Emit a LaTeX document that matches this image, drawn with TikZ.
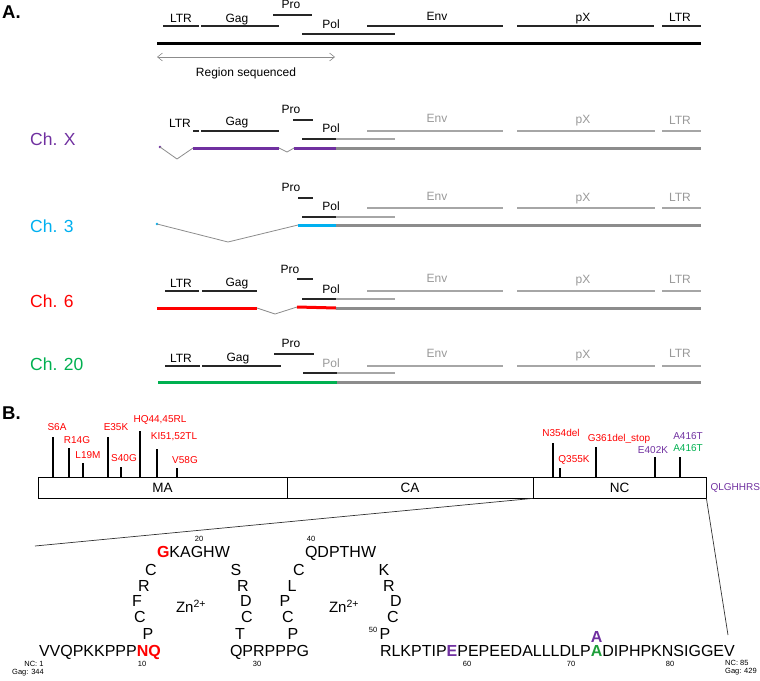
\documentclass[tikz,border=0pt]{standalone}
\usepackage{fontspec}
\setmainfont{Liberation Sans}
\usetikzlibrary{arrows.meta,positioning}
\definecolor{chpurple}{HTML}{7030A0}
\definecolor{chcyan}{HTML}{00B0F0}
\definecolor{chred}{HTML}{FF0000}
\definecolor{chgreen}{HTML}{00B050}
\definecolor{seqgreen}{HTML}{1E9E3A}
\definecolor{trackgray}{HTML}{8C8C8C}
\definecolor{genegray}{HTML}{A6A6A6}
\definecolor{labelgray}{HTML}{999999}

\begin{document}
\begin{tikzpicture}[
    x=1pt, y=-1pt,
    gene/.style={line width=1.3pt, draw=black!85},
    ggene/.style={line width=1.3pt, draw=genegray},
    track/.style={line width=3pt},
    splice/.style={line width=0.8pt, draw=trackgray},
    glbl/.style={font=\fontsize{12}{14}\selectfont, anchor=base, inner sep=0pt},
    gglbl/.style={glbl, text=labelgray},
    chlbl/.style={font=\fontsize{17.5}{20}\selectfont, anchor=base west, inner sep=0pt},
    panel/.style={font=\bfseries\fontsize{18.5}{22}\selectfont, anchor=base west, inner sep=0pt},
    regarrow/.style={{Straight Barb[length=5pt,width=8pt]}-{Straight Barb[length=5pt,width=8pt]}, line width=0.6pt, draw=trackgray},
    dom/.style={draw, line width=0.8pt, minimum height=21pt, inner sep=0pt, font=\fontsize{13.5}{15}\selectfont},
    bar/.style={line width=2.8pt},
    mut/.style={font=\fontsize{10}{12}\selectfont, text=chred, inner sep=0pt},
    aa/.style={font=\fontsize{16}{18}\selectfont, anchor=base, inner sep=0pt},
    seq/.style={font=\fontsize{16}{18}\selectfont, anchor=base west, inner sep=0pt, outer sep=0pt},
    zn/.style={font=\fontsize{15}{17}\selectfont, inner sep=0pt},
    num/.style={font=\fontsize{7.5}{9}\selectfont, inner sep=0pt},
    zoomline/.style={line width=0.7pt, draw=black!80}
]
\useasboundingbox (0,0) rectangle (760,680);

% ---------------- panel A ----------------
\node[panel] (pa) at (2,18) {A.};

% full provirus
\draw[gene] (163,26) -- (199,26);
\draw[gene] (201,26) -- (279,26);
\draw[gene] (273,15) -- (312,15);
\draw[gene] (302,34) -- (395,34);
\draw[gene] (367,26) -- (503,26);
\draw[gene] (517,26) -- (654,26);
\draw[gene] (662,26) -- (701,26);
\draw[track] (157,43) -- (701,43);
\node[glbl] (refltr) at (181,22) {LTR};
\node[glbl] (refgag) at (237,22) {Gag};
\node[glbl] (refpro) at (291,9) {Pro};
\node[glbl] (refpol) at (331,28) {Pol};
\node[glbl] (refenv) at (437,20) {Env};
\node[glbl] (refpx) at (583,21) {pX};
\node[glbl] (refltrb) at (680,21) {LTR};

\coordinate (rsL) at (157,57);
\coordinate (rsR) at (335,57);
\draw[regarrow] (rsL) -- (rsR);
\node[glbl] (region) at (246,76) {Region sequenced};

% Ch. X
\node[chlbl, text=chpurple] (chx) at (30,145) {Ch. X};
\begin{scope}[yshift=-105pt]
  \draw[gene] (193,26) -- (199,26);
  \draw[gene] (201,26) -- (279,26);
  \draw[gene] (293,15) -- (313,15);
  \draw[gene] (302,34) -- (336,34);
  \draw[ggene] (336,34) -- (395,34);
  \draw[ggene] (367,26) -- (503,26);
  \draw[ggene] (517,26) -- (655,26);
  \draw[ggene] (662,26) -- (701,26);
  \fill[chpurple] (160,42) circle (1.3pt);
  \draw[splice] (160,42) -- (177,54) -- (193,43);
  \draw[track, chpurple] (193,43) -- (279,43);
  \draw[splice] (279,43) -- (287,47) -- (294,43);
  \draw[track, chpurple] (294,43) -- (336,43);
  \draw[track, trackgray] (336,43) -- (701,43);
  \node[glbl] (chxltr) at (180,22) {LTR};
  \node[glbl] (chxgag) at (237,20) {Gag};
  \node[glbl] (chxpro) at (291,8) {Pro};
  \node[glbl] (chxpol) at (331,27) {Pol};
  \node[gglbl] (chxenv) at (437,17) {Env};
  \node[gglbl] (chxpx) at (583,18) {pX};
  \node[gglbl] (chxltrb) at (680,19) {LTR};
\end{scope}

% Ch. 3
\node[chlbl, text=chcyan] (ch3) at (30,232) {Ch. 3};
\begin{scope}[yshift=-182pt]
  \draw[gene] (298,16) -- (313,16);
  \draw[gene] (302,35) -- (336,35);
  \draw[ggene] (336,35) -- (395,35);
  \draw[ggene] (367,26) -- (503,26);
  \draw[ggene] (517,26) -- (655,26);
  \draw[ggene] (662,26) -- (701,26);
  \fill[chcyan] (157,42) circle (1.3pt);
  \draw[splice] (157,42) -- (228,60) -- (298,43);
  \draw[track, chcyan] (298,43) -- (336,43);
  \draw[track, trackgray] (336,43) -- (701,43);
  \node[glbl] (ch3pro) at (291,9) {Pro};
  \node[glbl] (ch3pol) at (331,28) {Pol};
  \node[gglbl] (ch3env) at (437,18) {Env};
  \node[gglbl] (ch3px) at (583,19) {pX};
  \node[gglbl] (ch3ltrb) at (680,19) {LTR};
\end{scope}

% Ch. 6
\node[chlbl, text=chred] (ch6) at (30,307) {Ch. 6};
\begin{scope}[yshift=-265pt]
  \draw[gene] (165,26) -- (199,26);
  \draw[gene] (202,26) -- (257,26);
  \draw[gene] (297,14) -- (313,14);
  \draw[gene] (302,34) -- (336,34);
  \draw[ggene] (336,34) -- (395,34);
  \draw[ggene] (367,26) -- (503,26);
  \draw[ggene] (517,26) -- (655,26);
  \draw[ggene] (662,26) -- (701,26);
  \draw[track, chred] (157,43) -- (257,43);
  \draw[splice] (257,43) -- (275,49) -- (297,42);
  \draw[track, chred] (297,42) -- (336,43);
  \draw[track, trackgray] (336,43) -- (701,43);
  \node[glbl] (ch6ltr) at (181,22) {LTR};
  \node[glbl] (ch6gag) at (237,21) {Gag};
  \node[glbl] (ch6pro) at (290,8) {Pro};
  \node[glbl] (ch6pol) at (331,28) {Pol};
  \node[gglbl] (ch6env) at (437,17) {Env};
  \node[gglbl] (ch6px) at (583,18) {pX};
  \node[gglbl] (ch6ltrb) at (680,18) {LTR};
\end{scope}

% Ch. 20
\node[chlbl, text=chgreen] (ch20) at (30,370) {Ch. 20};
\begin{scope}[yshift=-340pt]
  \draw[gene] (165,26) -- (200,26);
  \draw[gene] (202,26) -- (281,26);
  \draw[gene] (274,14) -- (314,14);
  \draw[gene] (303,33) -- (337,33);
  \draw[ggene] (337,33) -- (395,33);
  \draw[ggene] (367,26) -- (503,26);
  \draw[ggene] (517,26) -- (655,26);
  \draw[ggene] (662,26) -- (701,26);
  \draw[track, chgreen] (158,42) -- (337,42);
  \draw[track, trackgray] (337,42) -- (701,42);
  \node[glbl] (ch20ltr) at (181,22) {LTR};
  \node[glbl] (ch20gag) at (238,21) {Gag};
  \node[glbl] (ch20pro) at (291,7) {Pro};
  \node[gglbl] (ch20pol) at (331,27) {Pol};
  \node[gglbl] (ch20env) at (437,17) {Env};
  \node[gglbl] (ch20px) at (583,18) {pX};
  \node[gglbl] (ch20ltrb) at (680,17) {LTR};
\end{scope}

% ---------------- panel B ----------------
\node[panel] (pb) at (2,419) {B.};

\node[dom, minimum width=249pt] (ma) at (162.5,487.5) {MA};
\node[dom, minimum width=246pt] (ca) at (410,487.5) {CA};
\node[dom, minimum width=173pt] (nc) at (619.5,487.5) {NC};
\node[mut, text=chpurple, anchor=west, right=4pt of nc] (tail) {QLGHHRS};

% mutation bars
\foreach \x/\t in {53/437, 69/448, 83/463, 108/437, 121/467, 140/431, 157/449, 177/468,
                   553/443, 560/468, 596/447, 655/457, 680/457}
  \draw[bar] (\x,477) -- (\x,\t);

\node[mut] (m1) at (57,427) {S6A};
\node[mut] (m2) at (77,440) {R14G};
\node[mut] (m3) at (88,455) {L19M};
\node[mut] (m4) at (116,427) {E35K};
\node[mut] (m5) at (124,458) {S40G};
\node[mut] (m6) at (160,420) {HQ44,45RL};
\node[mut] (m7) at (174,437) {KI51,52TL};
\node[mut] (m8) at (185,460) {V58G};
\node[mut] (m9) at (561,433) {N354del};
\node[mut] (m10) at (574,460) {Q355K};
\node[mut] (m11) at (619,439) {G361del\_stop};
\node[mut, text=chpurple] (m12) at (653,450) {E402K};
\node[mut, text=chpurple] (m13) at (688,436) {A416T};
\node[mut, text=chgreen] (m14) at (688,448) {A416T};

% zoom into NC
\coordinate (zl) at (35,546);
\coordinate (zr) at (728,635);
\draw[zoomline] (nc.south west) -- (zl);
\draw[zoomline] (nc.south east) -- (zr);

% NC sequence
\node[seq] (s1) at (39,656) {VVQPKKPPP\textbf{\textcolor{chred}{NQ}}};
\node[seq] (s2) at (157,557) {\textbf{\textcolor{chred}{G}}KAGHW};
\node[seq] (s3) at (230,656) {QPRPPPG};
\node[seq] (s4) at (305,557) {QDPTHW};
\node[seq] (s5) at (380,656) {RLKPTIP};
\node[seq, font=\bfseries\fontsize{16}{18}\selectfont, text=chpurple] (s5e) at (s5.base east) {E};
\node[seq] (s6) at (s5e.base east) {PEPEEDALLLDLP};
\node[seq, font=\bfseries\fontsize{16}{18}\selectfont, text=seqgreen] (s6a) at (s6.base east) {A};
\node[seq] (s7) at (s6a.base east) {DIPHPKNSIGGEV};
\node[aa, font=\bfseries\fontsize{16}{18}\selectfont, text=chpurple, above=2.5pt of s6a] (muta) {A};

\foreach \c/\x/\y [count=\i] in {P/148/639, C/140/622, F/137/606, R/144/591, C/151/575}
  \node[aa] (la\i) at (\x,\y) {\c};
\foreach \c/\x/\y [count=\i] in {T/240/639, C/247/622, D/246/606, R/243/591, S/236/575}
  \node[aa] (lb\i) at (\x,\y) {\c};
\foreach \c/\x/\y [count=\i] in {P/293/639, C/288/622, P/285/606, L/292/591, C/299/575}
  \node[aa] (lc\i) at (\x,\y) {\c};
\foreach \c/\x/\y [count=\i] in {P/385/639, C/393/622, D/396/606, R/389/591, K/384/575}
  \node[aa] (ld\i) at (\x,\y) {\c};

\node[zn] (zn1) at (191,606) {Zn\textsuperscript{2+}};
\node[zn] (zn2) at (344,606) {Zn\textsuperscript{2+}};

\node[num] (n10) at (142,664) {10};
\node[num] (n20) at (199,539) {20};
\node[num] (n30) at (257,664) {30};
\node[num] (n40) at (311,539) {40};
\node[num] (n50) at (373,630) {50};
\node[num] (n60) at (467,664) {60};
\node[num] (n70) at (571,664) {70};
\node[num] (n80) at (670,664) {80};
\node[num] (nc1) at (34,664) {NC: 1};
\node[num] (gag1) at (28,673) {Gag: 344};
\node[num, anchor=west] (nc85) at (725,663) {NC: 85};
\node[num, anchor=west] (gag85) at (725,672) {Gag: 429};
\end{tikzpicture}
\end{document}
